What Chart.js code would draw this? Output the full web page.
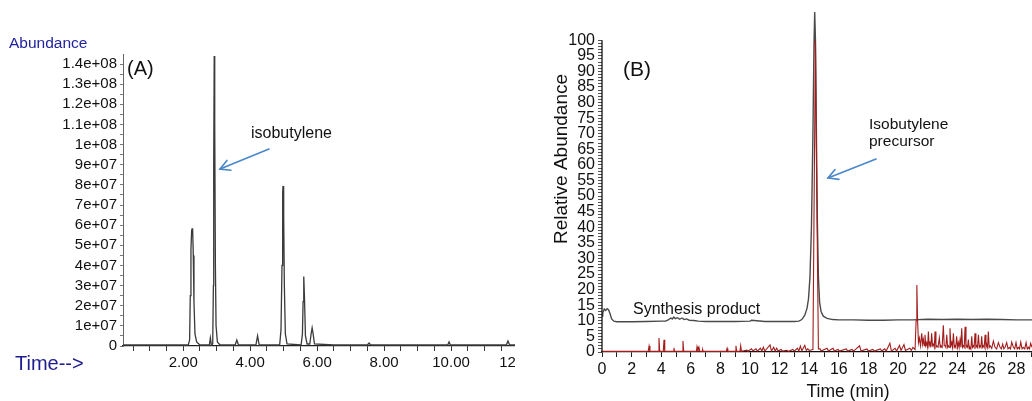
<!DOCTYPE html>
<html><head><meta charset="utf-8">
<script src="https://cdn.jsdelivr.net/npm/chart.js@4.4.0/dist/chart.umd.min.js"></script>
<style>
html,body{margin:0;padding:0;background:#fff;width:1032px;height:401px;overflow:hidden;}
#a{position:absolute;left:0;top:0;}
#b{position:absolute;left:515px;top:0;background:#fff;}
</style></head><body>
<canvas id="a" width="540" height="401"></canvas>
<canvas id="b" width="517" height="401"></canvas>
<script>
// ---------- Panel A : GC chromatogram (time in min, abundance) ----------
const A_TIME = [0.2,2.15,2.19,2.21,2.23,2.25,2.27,2.28,2.30,2.32,2.35,2.40,2.50,2.78,2.81,2.84,2.88,2.90,2.91,2.925,2.94,2.96,2.98,3.02,3.10,3.55,3.60,3.65,4.17,4.22,4.27,4.88,4.92,4.95,4.97,4.98,5.00,5.02,5.05,5.10,5.52,5.56,5.58,5.60,5.62,5.65,5.70,5.78,5.82,5.85,5.88,5.92,6.5,7.5,7.55,7.6,9.90,9.94,9.98,11.65,11.70,11.75,12.0];
const A_ABUND = [0.05e7,0.05e7,0.3e7,2.5e7,4.8e7,5.7e7,5.6e7,5.85e7,4.5e7,2.2e7,0.6e7,0.2e7,0.05e7,0.05e7,0.4e7,0.05e7,0.1e7,3e7,9e7,14.4e7,11e7,4e7,1e7,0.2e7,0.05e7,0.05e7,0.3e7,0.05e7,0.05e7,0.5e7,0.05e7,0.05e7,0.8e7,4e7,7.6e7,7.95e7,6.5e7,3e7,0.6e7,0.1e7,0.05e7,0.6e7,2.2e7,3.45e7,2.5e7,0.5e7,0.1e7,0.1e7,0.6e7,0.9e7,0.6e7,0.1e7,0.05e7,0.05e7,0.15e7,0.05e7,0.05e7,0.2e7,0.05e7,0.05e7,0.25e7,0.05e7,0.05e7];
const A_X_TICKS = [2,4,6,8,10,12];
const A_X_LABELS = ['2.00','4.00','6.00','8.00','10.00','12.00'];
const A_Y_TICKS = [0,1e7,2e7,3e7,4e7,5e7,6e7,7e7,8e7,9e7,1e8,1.1e8,1.2e8,1.3e8,1.4e8];
const A_Y_LABELS = ['0','1e+07','2e+07','3e+07','4e+07','5e+07','6e+07','7e+07','8e+07','9e+07','1e+08','1.1e+08','1.2e+08','1.3e+08','1.4e+08'];

// ---------- Panel B : relative abundance (%) vs time (min) ----------
const B_SYN_TIME = [0,0.05,0.15,0.25,0.35,0.45,0.55,0.65,0.8,1.0,2,3,4,4.3,4.5,4.65,4.75,4.85,4.95,5.1,5.25,5.4,5.55,5.7,5.9,6.2,6.5,7,8,9,10,10.1,11,12,13,13.3,13.5,13.7,13.85,13.95,14.05,14.15,14.25,14.32,14.37,14.42,14.48,14.55,14.62,14.7,14.8,14.95,15.2,15.6,16,17,18,19,20,21,22,23,24,25,26,27,28,29.05];
const B_SYN_VAL  = [11.5,12.5,13.8,13.3,13.9,13.5,12.2,10.6,9.9,9.7,9.7,9.8,9.9,9.9,10.4,10.9,10.6,11.2,10.7,11.0,10.5,10.9,10.4,10.6,10.2,10.1,9.9,9.8,9.8,9.8,9.9,10.2,9.8,9.8,9.8,9.9,10.4,11.8,14,17,24,40,70,98,109,100,72,42,24,16,13,11.5,10.8,10.4,10.3,10.3,10.2,10.2,10.3,10.3,10.5,10.4,10.5,10.4,10.5,10.4,10.3,10.3];

const B_PREC_TIME = [0,3.12,3.18,3.24,3.80,3.85,3.90,4.14,4.19,4.24,4.82,4.86,4.90,5.42,5.47,5.52,6.38,6.42,6.48,6.55,6.60,6.76,6.80,6.84,8.40,8.45,8.50,9.00,9.05,9.10,9.32,9.37,9.42,9.80,9.85,10.1,10.2,10.4,10.5,10.7,10.8,10.9,11.0,11.35,11.45,11.6,11.7,11.8,11.9,12.1,12.2,12.5,12.6,12.9,13.0,13.2,13.3,13.4,13.5,13.7,13.8,13.9,14.0,14.25,14.35,14.42,14.5,14.62,14.73,14.8,15.2,15.3,15.6,15.7,15.95,16.05,16.5,16.6,16.9,17.0,17.4,17.5,17.9,18.0,18.3,18.4,18.8,18.9,19.1,19.2,19.45,19.55,19.8,19.9,20.1,20.2,20.4,20.5,20.8,20.9,21.0,21.15,21.22,21.27,21.32,21.38,21.44,21.52,21.60,21.66,21.71,21.77,21.82,21.88,21.94,22.0,22.05,22.1,22.16,22.22,22.27,22.33,22.39,22.45,22.50,22.56,22.61,22.70,22.79,22.85,22.90,22.98,23.06,23.12,23.18,23.23,23.29,23.35,23.40,23.45,23.51,23.57,23.63,23.68,23.74,23.80,23.85,23.90,23.96,24.02,24.08,24.13,24.19,24.25,24.30,24.36,24.41,24.47,24.53,24.59,24.64,24.70,24.75,24.81,24.86,24.92,24.98,25.03,25.09,25.14,25.20,25.26,25.32,25.37,25.43,25.49,25.54,25.60,25.65,25.71,25.77,25.82,25.88,25.94,25.99,26.05,26.10,26.16,26.22,26.33,26.44,26.55,26.66,26.78,26.89,26.98,27.07,27.15,27.23,27.34,27.43,27.52,27.60,27.68,27.79,27.88,27.97,28.05,28.13,28.21,28.29,28.38,28.47,28.56,28.65,28.73,28.81,28.88,28.96,29.05];
const B_PREC_VAL  = [0.2,0.2,1.9,0.2,0.2,4.5,0.2,0.2,3.9,0.2,0.2,1.3,0.2,0.2,3.5,0.2,0.2,1.7,0.4,1.5,0.2,0.2,0.8,0.2,0.2,1.2,0.2,0.2,2.0,0.2,0.2,2.0,0.2,0.6,0.2,1.0,0.3,1.0,0.3,1.2,0.3,1.5,0.3,2.3,0.3,1.5,0.3,1.2,0.3,0.8,0.3,0.5,0.2,0.8,0.3,1.2,0.3,1.9,0.4,2.1,0.5,1.0,0.5,0.8,60,100,55,1.0,1.0,0.3,1.2,0.3,1.2,0.3,0.8,0.3,1.0,0.3,0.8,0.3,2.0,0.3,1.0,0.3,0.8,0.3,1.0,0.3,1.0,0.3,2.8,0.3,1.2,0.3,2.1,0.5,2.4,0.5,1.2,0.5,1.5,0.8,10,21.5,10,3,4.5,2,6,2.5,4,2,5.5,2,3,1.5,6.6,2,3,1.5,6,2,2.5,1.5,6.6,1.5,2,1.5,4.5,1.5,2,1.5,8.6,2,2,1.5,5.5,1.5,2,1.5,7.6,2,3,1.5,6,1.5,2,1.5,5,1.5,3,1.5,4,1.5,7.6,1.5,2,1.5,8.1,1.5,2,1.5,4,1,1.5,1,5,1.5,2,1.5,6,1.5,2,1.5,5.5,1.5,2,1.5,5,1.5,2,1.5,5.5,1.5,2.5,1.5,6.6,1.5,2,1.2,3.5,1.5,1,3,1.5,1,2.5,1,1.5,3,1,1.5,1,3.2,1.5,1,3,1,1.5,1,3.2,1,1.5,1,3,1,1.5,1,2.8,1.5];
const B_X_TICKS = [0,2,4,6,8,10,12,14,16,18,20,22,24,26,28];
const B_X_LABELS = ['0','2','4','6','8','10','12','14','16','18','20','22','24','26','28'];
const B_Y_TICKS = [0,5,10,15,20,25,30,35,40,45,50,55,60,65,70,75,80,85,90,95,100];
const B_Y_LABELS = ['0','5','10','15','20','25','30','35','40','45','50','55','60','65','70','75','80','85','90','95','100'];

// ---------- helpers ----------
const FONT = "'Liberation Sans', Arial, Helvetica, sans-serif";
Chart.defaults.font.family = FONT;
Chart.defaults.color = '#111';

function pairs(xs, ys){ return xs.map((x,i)=>({x:x, y:ys[i]})); }
function labelLookup(vals, labels){
  return function(v){ for(let i=0;i<vals.length;i++){ if(Math.abs(vals[i]-v)<1e-6) return labels[i]; } return ''; };
}
function minorTicks(lo, hi, step){ const out=[]; for(let k=Math.ceil(lo/step-1e-9); k*step<=hi+1e-9; k++) out.push({value:+(k*step).toFixed(6)}); return out; }
function fitW(w){ return s=>{ s.width=w; s.paddingLeft=s.paddingRight=s.paddingTop=s.paddingBottom=0; }; }
function fitH(h){ return s=>{ s.height=h; s.paddingLeft=s.paddingRight=s.paddingTop=s.paddingBottom=0; }; }
function arrow(ctx, x1,y1,x2,y2){
  ctx.save(); ctx.strokeStyle='#4a86c8'; ctx.lineWidth=1.6; ctx.lineCap='round';
  ctx.beginPath(); ctx.moveTo(x1,y1); ctx.lineTo(x2,y2); ctx.stroke();
  const a=Math.atan2(y2-y1,x2-x1), L=11, s=0.5;
  ctx.beginPath();
  ctx.moveTo(x2-L*Math.cos(a-s), y2-L*Math.sin(a-s)); ctx.lineTo(x2,y2);
  ctx.lineTo(x2-L*Math.cos(a+s), y2-L*Math.sin(a+s)); ctx.stroke(); ctx.restore();
}
function txt(ctx, s, x, y, size, color, align){
  ctx.save(); ctx.font = size+'px '+FONT; ctx.fillStyle=color||'#111'; ctx.textAlign=align||'left'; ctx.textBaseline='alphabetic';
  ctx.fillText(s,x,y); ctx.restore();
}

// ---------- Chart A ----------
new Chart(document.getElementById('a'), {
  type:'line',
  data:{ datasets:[{ data:pairs(A_TIME,A_ABUND), borderColor:'#3a3a3a', borderWidth:1.3, pointRadius:0, tension:0 }]},
  options:{
    responsive:false, animation:false, events:[],
    layout:{ padding:{left:0, top:54, right:22, bottom:0} },
    plugins:{ legend:{display:false}, tooltip:{enabled:false} },
    scales:{
      x:{ type:'linear', min:0.2, max:12,
          afterBuildTicks:s=>{ s.ticks=minorTicks(0.5,12,0.5); },
          afterFit:fitH(55),
          ticks:{ autoSkip:false, maxRotation:0, minRotation:0, padding:3, font:{size:15}, color:'#111',
                  callback:labelLookup(A_X_TICKS,A_X_LABELS) },
          grid:{ drawOnChartArea:false, tickLength:5, color:'#333' },
          border:{ display:true, color:'#222', width:1.2 } },
      y:{ type:'linear', min:0, max:1.45e8,
          afterBuildTicks:s=>{ s.ticks=minorTicks(0,1.4e8,0.5e7); },
          afterFit:fitW(123),
          ticks:{ autoSkip:false, padding:3, font:{size:15}, color:'#111',
                  callback:labelLookup(A_Y_TICKS,A_Y_LABELS) },
          grid:{ drawOnChartArea:false, tickLength:3, color:'#777' },
          border:{ display:true, color:'#666', width:1, dash:[1,1.5] } }
    }
  },
  plugins:[{ id:'annA', afterDraw(c){ const ctx=c.ctx;
    txt(ctx,'Abundance',9,48,15.5,'#2323a0');
    txt(ctx,'(A)',127,75,20,'#111');
    txt(ctx,'Time-->',15,370,20,'#1d1d90');
    txt(ctx,'isobutylene',251,138,16,'#111');
    arrow(ctx,269,149,220,169);
  }}]
});

// ---------- Chart B ----------
new Chart(document.getElementById('b'), {
  type:'line',
  data:{ datasets:[
    { label:'Isobutylene precursor', data:pairs(B_PREC_TIME,B_PREC_VAL), borderColor:'#a31c1c', borderWidth:1.1, pointRadius:0, tension:0 },
    { label:'Synthesis product', data:pairs(B_SYN_TIME,B_SYN_VAL), borderColor:'#4a4a4a', borderWidth:1.4, pointRadius:0, tension:0 }
  ]},
  options:{
    responsive:false, animation:false, events:[],
    layout:{ padding:{left:0, top:9, right:0, bottom:0} },
    plugins:{ legend:{display:false}, tooltip:{enabled:false} },
    scales:{
      x:{ type:'linear', min:0, max:29.05,
          afterBuildTicks:s=>{ s.ticks=minorTicks(0,29,1); },
          afterFit:fitH(49),
          ticks:{ autoSkip:false, maxRotation:0, minRotation:0, padding:3, font:{size:16}, color:'#111',
                  callback:labelLookup(B_X_TICKS,B_X_LABELS) },
          grid:{ drawOnChartArea:false, tickLength:5, color:'#222' },
          border:{ display:true, color:'#111', width:1.3 } },
      y:{ type:'linear', min:0, max:110,
          afterBuildTicks:s=>{ s.ticks=minorTicks(0,100,1); },
          afterFit:fitW(87),
          ticks:{ autoSkip:false, padding:3, font:{size:16}, color:'#111',
                  callback:labelLookup(B_Y_TICKS,B_Y_LABELS) },
          grid:{ drawOnChartArea:false, tickLength:4, color:'#555' },
          border:{ display:false } }
    }
  },
  plugins:[{ id:'annB', afterDraw(c){ const ctx=c.ctx; const ys=c.scales.y; const xl=c.chartArea.left;
    ctx.save(); ctx.strokeStyle='#111'; ctx.lineWidth=1.3; ctx.beginPath();
    ctx.moveTo(xl, ys.getPixelForValue(0)); ctx.lineTo(xl, ys.getPixelForValue(100)); ctx.stroke(); ctx.restore();
    txt(ctx,'(B)',108,76,21,'#111');
    ctx.save(); ctx.translate(52,159); ctx.rotate(-Math.PI/2); txt(ctx,'Relative Abundance',0,0,19,'#111','center'); ctx.restore();
    txt(ctx,'Synthesis product',118,314,16,'#111');
    txt(ctx,'Isobutylene',354,129,15.5,'#111');
    txt(ctx,'precursor',354,146,15.5,'#111');
    arrow(ctx,361,159,313,178);
    txt(ctx,'Time (min)',333,397,17.5,'#111','center');
  }}]
});
</script>
</body></html>
